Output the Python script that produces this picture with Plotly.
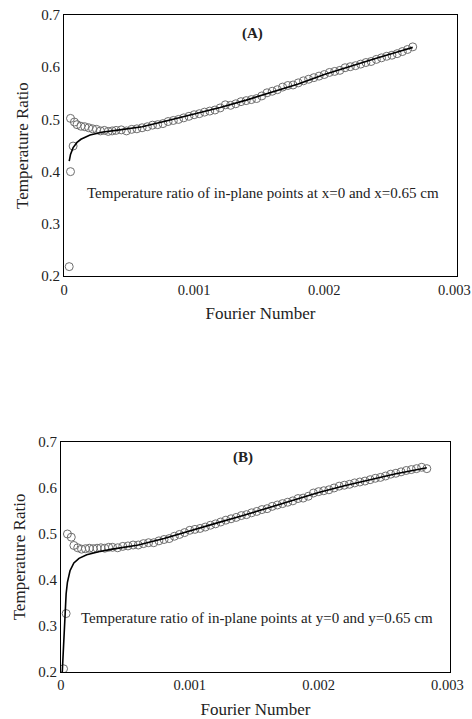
import plotly.graph_objects as go

# ---------------- Panel A data ----------------
a_exp_x = [0.00004, 0.00005, 0.00007, 0.00005, 0.00008, 0.00010, 0.00013, 0.00016, 0.00019, 0.00022,
           0.00025, 0.00028, 0.00031, 0.00034, 0.00037,
           0.00040, 0.00044, 0.00048, 0.00052, 0.00056, 0.00060, 0.00064, 0.00068, 0.00072, 0.00076,
           0.00080, 0.00084, 0.00088, 0.00092, 0.00096, 0.00100, 0.00104, 0.00108, 0.00112, 0.00116,
           0.00120, 0.00124, 0.00128, 0.00132, 0.00136, 0.00140, 0.00144, 0.00148, 0.00152, 0.00156,
           0.00160, 0.00164, 0.00168, 0.00172, 0.00176, 0.00180, 0.00184, 0.00188, 0.00192, 0.00196,
           0.00200, 0.00204, 0.00208, 0.00212, 0.00216, 0.00220, 0.00224, 0.00228, 0.00232, 0.00236,
           0.00240, 0.00244, 0.00248, 0.00252, 0.00256, 0.00260, 0.00264, 0.00268]
a_exp_y = [0.218, 0.400, 0.449, 0.502, 0.495, 0.490, 0.487, 0.486, 0.484, 0.482,
           0.481, 0.478, 0.479, 0.477, 0.478,
           0.479, 0.480, 0.478, 0.481, 0.482, 0.484, 0.486, 0.489, 0.490, 0.492,
           0.496, 0.498, 0.500, 0.503, 0.506, 0.509, 0.511, 0.514, 0.516, 0.518,
           0.522, 0.528, 0.527, 0.530, 0.534, 0.536, 0.538, 0.540, 0.545, 0.551,
           0.554, 0.557, 0.562, 0.565, 0.566, 0.570, 0.574, 0.577, 0.580, 0.583,
           0.586, 0.590, 0.592, 0.594, 0.599, 0.601, 0.603, 0.606, 0.609, 0.611,
           0.615, 0.618, 0.621, 0.623, 0.626, 0.630, 0.634, 0.639]
a_model_x = [0.00004, 0.00005, 0.00007, 0.00010, 0.00013, 0.00016, 0.00020, 0.00025, 0.00030, 0.00040,
             0.00050, 0.00060, 0.00080, 0.00100, 0.00120, 0.00140, 0.00160, 0.00180, 0.00200, 0.00220,
             0.00240, 0.00260, 0.00268]
a_model_y = [0.420, 0.433, 0.446, 0.456, 0.462, 0.466, 0.470, 0.473, 0.476, 0.479,
             0.482, 0.486, 0.498, 0.510, 0.523, 0.537, 0.553, 0.568, 0.586, 0.602,
             0.617, 0.632, 0.638]

# ---------------- Panel B data ----------------
b_exp_x = [0.00002, 0.00004, 0.00005, 0.00008, 0.00010, 0.00013, 0.00016, 0.00019, 0.00022, 0.00025,
           0.00028, 0.00031, 0.00034, 0.00037,
           0.00040, 0.00044, 0.00048, 0.00052, 0.00056, 0.00060, 0.00064, 0.00068, 0.00072, 0.00076,
           0.00080, 0.00084, 0.00088, 0.00092, 0.00096, 0.00100, 0.00104, 0.00108, 0.00112, 0.00116,
           0.00120, 0.00124, 0.00128, 0.00132, 0.00136, 0.00140, 0.00144, 0.00148, 0.00152, 0.00156,
           0.00160, 0.00164, 0.00168, 0.00172, 0.00176, 0.00180, 0.00184, 0.00188, 0.00192, 0.00196,
           0.00200, 0.00204, 0.00208, 0.00212, 0.00216, 0.00220, 0.00224, 0.00228, 0.00232, 0.00236,
           0.00240, 0.00244, 0.00248, 0.00252, 0.00256, 0.00260, 0.00264, 0.00268, 0.00272, 0.00276,
           0.00280, 0.00284]
b_exp_y = [0.207, 0.327, 0.500, 0.493, 0.475, 0.470, 0.467, 0.468, 0.469, 0.468,
           0.469, 0.470, 0.469, 0.471,
           0.471, 0.470, 0.473, 0.474, 0.476, 0.476, 0.479, 0.481, 0.481, 0.485,
           0.488, 0.490, 0.495, 0.499, 0.503, 0.508, 0.510, 0.512, 0.515, 0.519,
           0.522, 0.526, 0.530, 0.533, 0.536, 0.540, 0.542, 0.546, 0.549, 0.553,
           0.555, 0.560, 0.563, 0.566, 0.569, 0.572, 0.577, 0.578, 0.582, 0.589,
           0.592, 0.594, 0.596, 0.600, 0.604, 0.606, 0.608, 0.611, 0.613, 0.615,
           0.618, 0.621, 0.623, 0.626, 0.630, 0.632, 0.635, 0.638, 0.640, 0.642,
           0.645, 0.642]
b_model_x = [0.00001, 0.00002, 0.00003, 0.00004, 0.00005, 0.00007, 0.00010, 0.00014, 0.00020, 0.00030,
             0.00040, 0.00060, 0.00080, 0.00100, 0.00120, 0.00140, 0.00160, 0.00180, 0.00200, 0.00220,
             0.00240, 0.00260, 0.00284]
b_model_y = [0.200, 0.270, 0.330, 0.370, 0.395, 0.420, 0.437, 0.447, 0.455, 0.462,
             0.467, 0.476, 0.490, 0.507, 0.523, 0.539, 0.556, 0.573, 0.590, 0.605,
             0.618, 0.631, 0.644]

x_tick_vals = [0, 0.001, 0.002, 0.003]
x_tick_text = ["0", "0.001", "0.002", "0.003"]
y_tick_vals = [0.2, 0.3, 0.4, 0.5, 0.6, 0.7]
y_tick_text = ["0.2", "0.3", "0.4", "0.5", "0.6", "0.7"]

FONT = "Liberation Serif"
MARK = dict(symbol="circle-open", size=8, color="#6e6e6e", line=dict(width=1, color="#6e6e6e"))
LINE = dict(color="black", width=1.6)

fig = go.Figure()
fig.add_trace(go.Scatter(x=a_exp_x, y=a_exp_y, mode="markers", marker=MARK, xaxis="x", yaxis="y"))
fig.add_trace(go.Scatter(x=a_model_x, y=a_model_y, mode="lines", line=LINE, xaxis="x", yaxis="y"))
fig.add_trace(go.Scatter(x=b_exp_x, y=b_exp_y, mode="markers", marker=MARK, xaxis="x2", yaxis="y2"))
fig.add_trace(go.Scatter(x=b_model_x, y=b_model_y, mode="lines", line=LINE, xaxis="x2", yaxis="y2"))

def xax(domain, anchor):
    return dict(domain=domain, anchor=anchor, range=[0, 0.00302], tickvals=x_tick_vals, ticktext=x_tick_text,
                showgrid=False, zeroline=False, showline=True, linecolor="black", linewidth=1.2, mirror=True,
                ticks="", automargin=False, tickfont=dict(family=FONT, size=14.5, color="#222"),
                title=dict(text="Fourier Number", font=dict(family=FONT, size=17, color="#222"), standoff=10))

def yax(domain, anchor):
    return dict(domain=domain, anchor=anchor, range=[0.2, 0.7], tickvals=y_tick_vals, ticktext=y_tick_text,
                showgrid=False, zeroline=False, showline=True, linecolor="black", linewidth=1.2, mirror=True,
                ticks="", automargin=False, tickfont=dict(family=FONT, size=15, color="#222"),
                title=dict(text="Temperature Ratio", font=dict(family=FONT, size=17, color="#222"), standoff=8))

fig.update_layout(
    width=472, height=719,
    margin=dict(l=0, r=0, t=0, b=0),
    paper_bgcolor="white", plot_bgcolor="white",
    showlegend=False,
    xaxis=xax([0.1356, 0.9682], "y"),
    yaxis=yax([0.6161, 0.9791], "x"),
    xaxis2=xax([0.1292, 0.9534], "y2"),
    yaxis2=yax([0.0654, 0.3853], "x2"),
    annotations=[
        dict(x=0.00145, y=0.665, xref="x", yref="y", text="<b>(A)</b>", showarrow=False,
             font=dict(family=FONT, size=15, color="#222")),
        dict(x=0.00153, y=0.36, xref="x", yref="y",
             text="Temperature ratio of in-plane points at x=0 and x=0.65 cm", showarrow=False,
             font=dict(family=FONT, size=15, color="#222")),
        dict(x=0.00141, y=0.667, xref="x2", yref="y2", text="<b>(B)</b>", showarrow=False,
             font=dict(family=FONT, size=15, color="#222")),
        dict(x=0.00152, y=0.317, xref="x2", yref="y2",
             text="Temperature ratio of in-plane points at y=0 and y=0.65 cm", showarrow=False,
             font=dict(family=FONT, size=15, color="#222")),
    ],
)

fig.write_html("out.html", config={"displayModeBar": False},
               post_script="document.body.style.margin='0';")
